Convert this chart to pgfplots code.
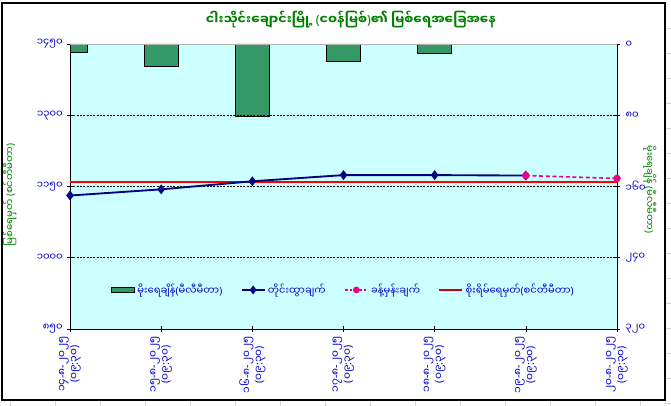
\documentclass[border=0pt]{standalone}
\usepackage{pgfplots}
\pgfplotsset{compat=1.18}
\usepackage{fontspec}
\setmainfont{Noto Sans Myanmar UI}[Script=Myanmar]
\newfontfamily\latin{Noto Sans}
% punctuation that the Myanmar font lacks
\newcommand{\lp}{{\latin(}}
\newcommand{\rp}{{\latin)}}
\newcommand{\hy}{{\latin-}}
\newcommand{\cl}{{\latin:}}
\newcommand{\dt}[1]{#1\hy ၈\hy ၂၀၂၅\\\lp ၀၉\cl ၃၀\rp}

\definecolor{barg}{RGB}{51,153,102}
\definecolor{bgc}{RGB}{204,255,255}
\definecolor{tblue}{RGB}{0,0,210}
\definecolor{tgreen}{RGB}{0,128,0}
\definecolor{navyl}{RGB}{0,0,128}

% rainfall (mm), right axis, reversed
\pgfplotstableread{
x rain
0 9
1 25
2 81
3 20
4 10
}\rain

% measured water level (cm)
\pgfplotstableread{
x lvl
0 1131
1 1144
2 1161
3 1174
4 1174
5 1173
}\measured

% forecast
\pgfplotstableread{
x lvl
5 1173
6 1167
}\forecast

\pgfplotsset{
  common/.style={
    at={(52.5pt,57.75pt)}, anchor=south west,
    scale only axis, width=410.25pt, height=213.75pt,
    xmin=0, xmax=6,
    tick align=center, major tick length=4pt,
    tick style={black, line width=0.5pt},
    every tick label/.append style={font=\fontsize{7.5}{8.5}\selectfont, text=tblue},
    label style={font=\fontsize{7.5}{9}\selectfont, text=tgreen},
  }
}

\begin{document}
\begin{tikzpicture}
\path[use as bounding box, fill=white] (0,0) rectangle (503.25pt,304.5pt);
% spreadsheet cells outside the chart
\foreach \i in {0,...,14} {
  \draw[gray!35, line width=0.4pt] ({(10+45*\i)*0.75pt},0) -- ({(10+45*\i)*0.75pt},4.5pt);
}
\foreach \j in {0,...,15} {
  \draw[gray!35, line width=0.4pt] (498.75pt,{(406-28-25*\j)*0.75pt}) -- (503.25pt,{(406-28-25*\j)*0.75pt});
}
\draw[black, line width=0.8pt] (1.5pt,4.5pt) rectangle (498.75pt,302.25pt);

\node[font=\fontsize{9.5}{11}\selectfont\bfseries, text=tgreen] at (263.25pt,289.5pt)
  {ငါးသိုင်းချောင်းမြို့ \lp ငဝန်မြစ်\rp ၏ မြစ်ရေအခြေအနေ};

% rain bars, right axis
\begin{axis}[common,
  ymin=0, ymax=320, y dir=reverse,
  axis y line*=right, axis x line=none,
  axis line style={black, line width=0.6pt},
  axis background/.style={fill=bgc},
  ytick={0,80,160,240,320},
  yticklabels={၀,၈၀,၁၆၀,၂၄၀,၃၂၀},
  y tick label style={anchor=west, xshift=1pt},
  ylabel={မိုးရေချိန် \lp မီလီမီတာ\rp},
  ylabel style={at={(axis description cs:1.06,0.49)}, anchor=center, rotate=180},
  ybar, bar width=25.5pt,
]
\addplot[fill=barg, draw=black, line width=0.5pt] table[x=x, y=rain] {\rain};
\end{axis}

% water level, left axis
\begin{axis}[common,
  ymin=850, ymax=1450,
  axis y line*=left, axis x line*=bottom,
  axis line style={black, line width=0.6pt},
  clip=false,
  ytick={850,1000,1150,1300,1450},
  yticklabels={၈၅၀,၁၀၀၀,၁၁၅၀,၁၃၀၀,၁၄၅၀},
  extra y ticks={1000,1150,1300},
  extra y tick labels={},
  extra y tick style={grid=major, major tick length=0pt},
  grid style={black, line width=0.5pt, dash pattern=on 1.5pt off 1pt},
  xtick={0,...,6},
  xticklabels={
    {\dt{၁၄}}, {\dt{၁၅}}, {\dt{၁၆}}, {\dt{၁၇}},
    {\dt{၁၈}}, {\dt{၁၉}}, {\dt{၂၀}}},
  x tick label style={rotate=90, anchor=east, align=center,
    font=\fontsize{8}{9}\selectfont},
  ylabel={မြစ်ရေမှတ် \lp စင်တီမီတာ\rp},
  ylabel style={at={(axis description cs:-0.11,0.47)}, anchor=center},
  legend style={at={(0.5,0.137)}, anchor=center, draw=none, fill=none,
    font=\fontsize{7.5}{9}\selectfont, text=tblue,
    /tikz/every even column/.append style={column sep=12pt}},
  legend columns=4,
]
\draw[gray!60, line width=0.5pt] (rel axis cs:0,1) -- (rel axis cs:1,1);
\addplot[red, line width=1.4pt, forget plot] coordinates {(0,1160) (6,1160)};
\addplot[navyl, line width=1.4pt, mark=diamond*, mark size=2.6pt, forget plot]
  table[x=x, y=lvl] {\measured};
\addplot[magenta, line width=1.2pt, dash pattern=on 3pt off 2pt,
  mark=*, mark size=2.2pt, mark options={solid}, forget plot]
  table[x=x, y=lvl] {\forecast};

\addlegendimage{legend image code/.code={
  \draw[fill=barg, draw=black, line width=0.4pt] (0cm,-0.07cm) rectangle (0.62cm,0.07cm);}}
\addlegendentry{မိုးရေချိန်\lp မီလီမီတာ\rp}
\addlegendimage{navyl, line width=1.2pt, mark=diamond*, mark size=2.4pt}
\addlegendentry{တိုင်းထွာချက်}
\addlegendimage{magenta, line width=1pt, dash pattern=on 2pt off 1.5pt,
  mark=*, mark size=2pt, mark options={solid}}
\addlegendentry{ခန့်မှန်းချက်}
\addlegendimage{red!80!black, line width=1.2pt}
\addlegendentry{စိုးရိမ်ရေမှတ်\lp စင်တီမီတာ\rp}
\end{axis}
\end{tikzpicture}
\end{document}
